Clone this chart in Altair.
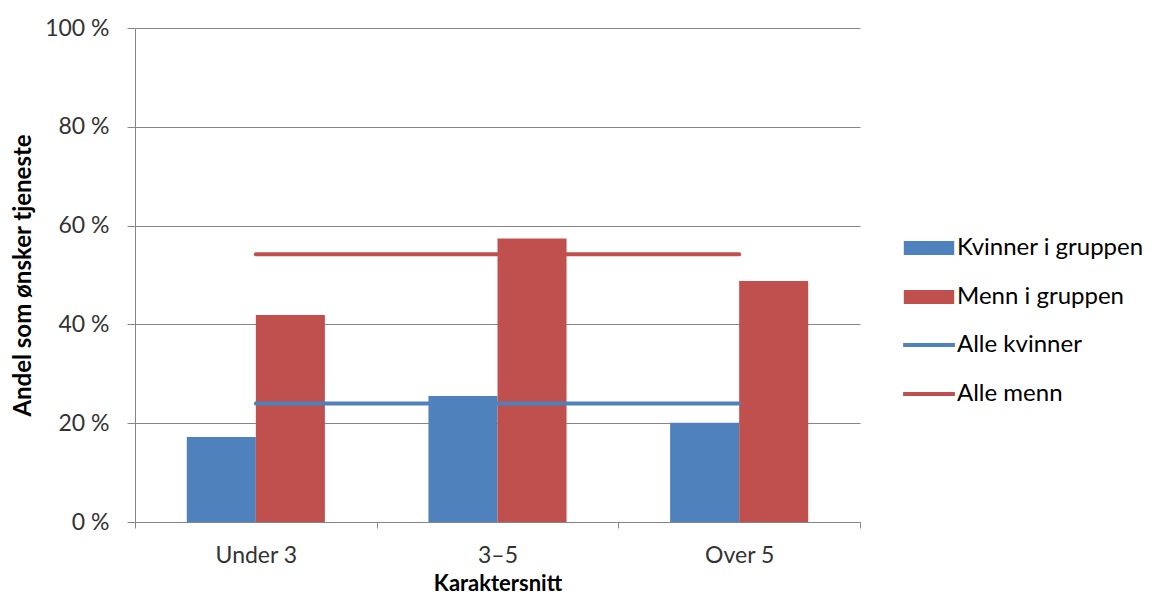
import altair as alt
import pandas as pd

categories = ["Under 3", "3–5", "Over 5"]
kvinner_i_gruppen = [17.2, 25.5, 20.1]
menn_i_gruppen = [41.9, 57.4, 48.8]
alle_kvinner = [24.0, 24.0, 24.0]
alle_menn = [54.2, 54.2, 54.2]

bar_series = ["Kvinner i gruppen", "Menn i gruppen"]
line_series = ["Alle kvinner", "Alle menn"]
y_ticks = [0, 20, 40, 60, 80, 100]

BLUE = "#4F81BD"
RED = "#C0504D"
GRID = "#868686"
FONT = "Lato"

bars_df = pd.DataFrame({
    "kategori": categories * 2,
    "serie": [bar_series[0]] * 3 + [bar_series[1]] * 3,
    "andel": kvinner_i_gruppen + menn_i_gruppen,
})
lines_df = pd.DataFrame({
    "kategori": categories * 2,
    "serie": [line_series[0]] * 3 + [line_series[1]] * 3,
    "andel": alle_kvinner + alle_menn,
})

x_enc = alt.X(
    "kategori:N",
    sort=categories,
    scale=alt.Scale(paddingInner=0, paddingOuter=0),
    axis=alt.Axis(
        title="Karaktersnitt",
        labelAngle=0,
        tickBand="extent",
        tickSize=6,
        labelPadding=16,
        titlePadding=6,
        labelFontSize=23,
        titleFontSize=22,
    ),
)
y_enc = alt.Y(
    "andel:Q",
    scale=alt.Scale(domain=[0, 100]),
    axis=alt.Axis(
        title="Andel som ønsker tjeneste",
        values=y_ticks,
        labelExpr="datum.value + ' %'",
        grid=True,
        tickSize=8,
        labelPadding=18,
        titlePadding=9,
        labelFontSize=23,
        titleFontSize=24,
    ),
)

bar_symbol = "M-3.6,-1L3.6,-1L3.6,1L-3.6,1Z"
line_symbol = "M-3.7,0L3.7,0"

bars = alt.Chart(bars_df).mark_bar(strokeWidth=0).encode(
    x=x_enc,
    xOffset=alt.XOffset("serie:N", sort=bar_series,
                        scale=alt.Scale(paddingInner=0, paddingOuter=0.75)),
    y=y_enc,
    fill=alt.Fill(
        "serie:N",
        scale=alt.Scale(domain=bar_series, range=[BLUE, RED]),
        legend=alt.Legend(
            title=None,
            orient="none",
            legendX=782,
            legendY=208,
            symbolType=bar_symbol,
            symbolSize=196,
            symbolStrokeWidth=0,
            labelOffset=16,
            labelFontSize=24,
            labelLimit=320,
            rowPadding=25,
            padding=0,
        ),
    ),
)

lines = alt.Chart(lines_df).mark_line(strokeWidth=4, strokeCap="round").encode(
    x=x_enc,
    y=y_enc,
    stroke=alt.Stroke(
        "serie:N",
        scale=alt.Scale(domain=line_series, range=[BLUE, RED]),
        legend=alt.Legend(
            title=None,
            orient="none",
            legendX=782,
            legendY=305,
            symbolType=line_symbol,
            symbolSize=196,
            symbolStrokeWidth=4,
            labelOffset=16,
            labelFontSize=24,
            labelLimit=320,
            rowPadding=25,
            padding=0,
        ),
    ),
)

chart = alt.layer(bars, lines).properties(
    width=725,
    height=494,
    autosize=alt.AutoSizeParams(type="none"),
    padding={"left": 127, "top": 20, "right": 282, "bottom": 75},
).configure_view(
    stroke=None
).configure_axis(
    domainColor=GRID,
    tickColor=GRID,
    gridColor=GRID,
    labelColor="#333333",
    titleColor="#000000",
    labelFont=FONT,
    titleFont=FONT,
    titleFontWeight="bold",
).configure_legend(
    labelFont=FONT,
    labelColor="#000000",
)

chart.save("out.html", embed_options={"renderer": "svg", "actions": False})
